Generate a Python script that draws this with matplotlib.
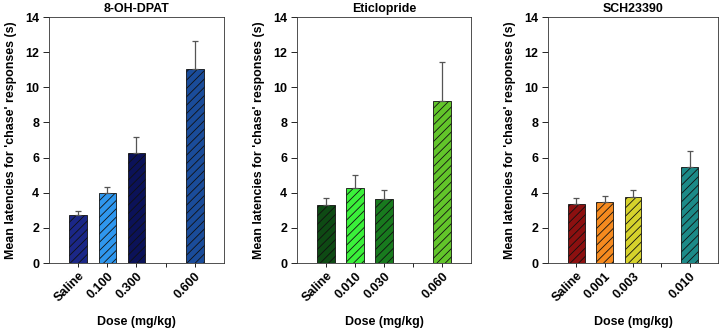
import matplotlib.pyplot as plt

plt.rcParams['font.family'] = ['Liberation Sans', 'DejaVu Sans']
plt.rcParams['font.weight'] = 'bold'
plt.rcParams['hatch.linewidth'] = 0.6

# Data
titles = ['8-OH-DPAT', 'Eticlopride', 'SCH23390']
dose_labels = [
    ['Saline', '0.100', '0.300', '0.600'],
    ['Saline', '0.010', '0.030', '0.060'],
    ['Saline', '0.001', '0.003', '0.010'],
]
dpat_means = [2.72, 3.97, 6.28, 11.05]
dpat_err = [0.22, 0.36, 0.87, 1.6]
etic_means = [3.3, 4.27, 3.62, 9.2]
etic_err = [0.4, 0.75, 0.53, 2.22]
sch_means = [3.37, 3.48, 3.77, 5.47]
sch_err = [0.33, 0.34, 0.4, 0.88]

dpat_colors = ['#1b2787', '#2f97ee', '#0b1258', '#1a4c9a']
etic_colors = ['#0e4a14', '#3af03a', '#187a1e', '#62c52a']
sch_colors = ['#8c1010', '#f58a1f', '#d6d22c', '#1c8a88']

means = [dpat_means, etic_means, sch_means]
errs = [dpat_err, etic_err, sch_err]
colors = [dpat_colors, etic_colors, sch_colors]

positions = [0, 1, 2, 4]

fig = plt.figure(figsize=(7.27, 3.31), dpi=100)
lefts = [0.0674, 0.4085, 0.7538]
widths = [0.2407, 0.2393, 0.2338]

for i in range(3):
    ax = fig.add_axes([lefts[i], 0.2054, widths[i], 0.743])
    ax.bar(positions, means[i], width=0.6, color=colors[i], edgecolor='#111111',
           linewidth=0.6, hatch='////')
    ax.errorbar(positions, means[i], yerr=[[0] * 4, errs[i]], fmt='none',
                ecolor='#555555', elinewidth=0.9, capsize=2.5, capthick=0.9)
    ax.set_xlim(-1, 5)
    ax.set_ylim(0, 14)
    ax.set_yticks(range(0, 15, 2))
    ax.set_xticks([0, 1, 2, 3, 4])
    lbls = dose_labels[i][:3] + [''] + dose_labels[i][3:]
    ax.set_xticklabels(lbls, rotation=45, ha='right', rotation_mode='anchor',
                       fontsize=9, fontweight='bold')
    ax.tick_params(axis='y', labelsize=9, length=4, width=0.6, pad=3)
    ax.tick_params(axis='x', length=3, width=0.6, pad=2)
    for s in ax.spines.values():
        s.set_linewidth(0.6)
        s.set_color('#333333')
    ax.set_title(titles[i], fontsize=8.9, fontweight='bold', pad=4)
    ax.set_ylabel("Mean latencies for 'chase' responses (s)", fontsize=8.9,
                  fontweight='bold', labelpad=6)
    ax.set_xlabel('Dose (mg/kg)', fontsize=8.9, fontweight='bold', labelpad=8)

fig.savefig('out.png', dpi=100)
